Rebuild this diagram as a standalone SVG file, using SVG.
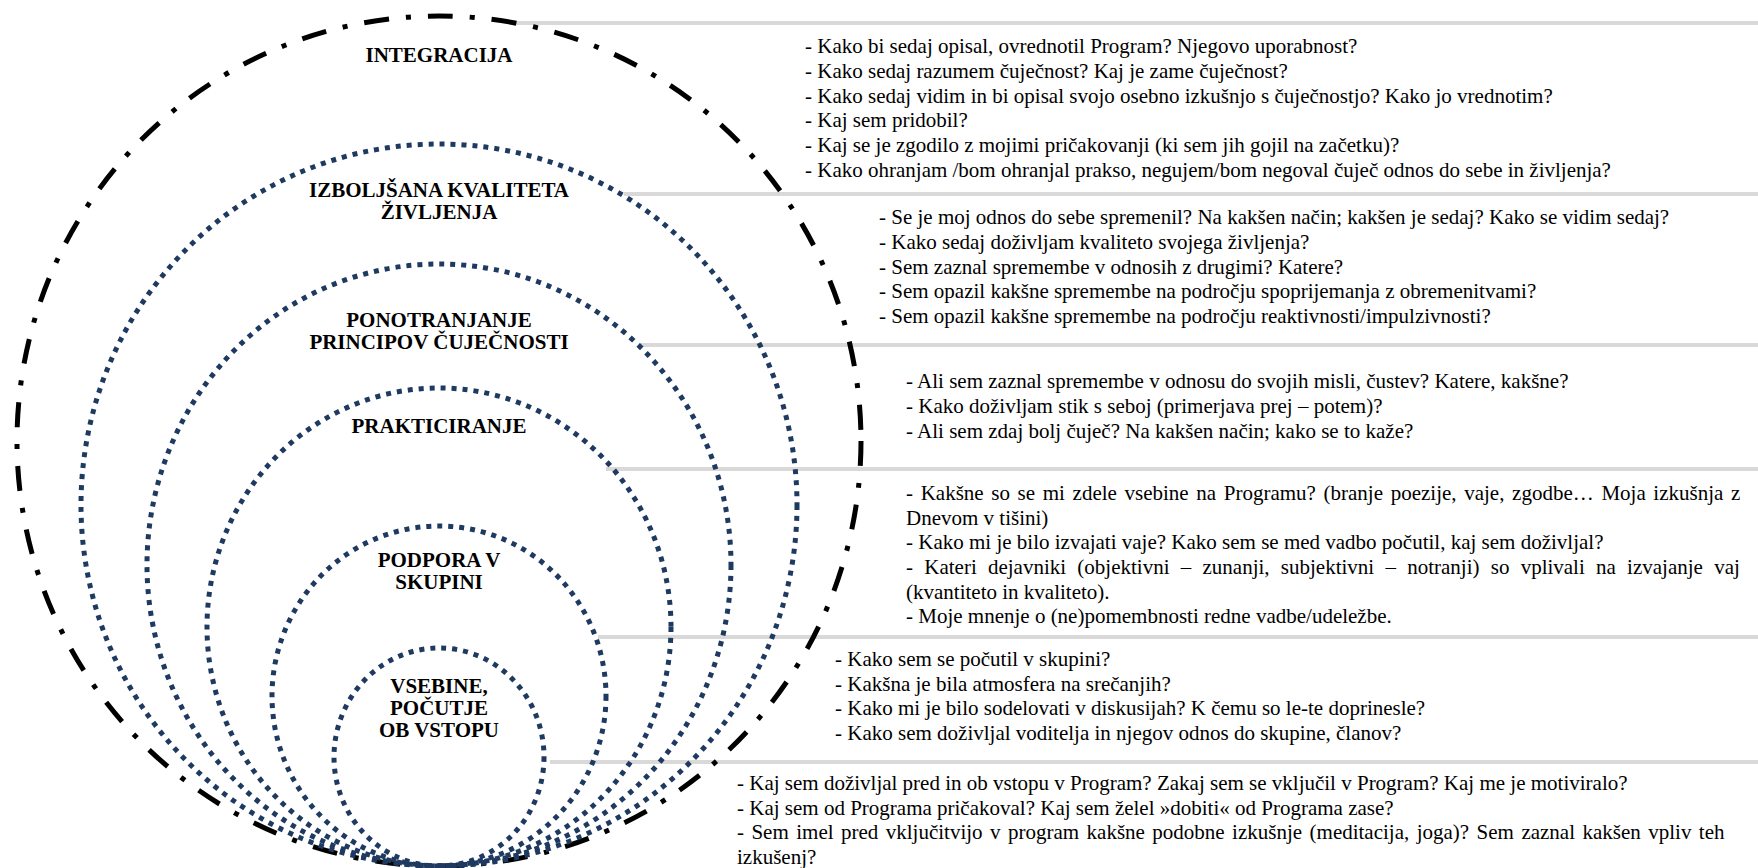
<svg xmlns="http://www.w3.org/2000/svg" width="1758" height="868" viewBox="0 0 1758 868">
  <style>
    .ring { fill: none; stroke: #1f3a60; stroke-width: 5; stroke-dasharray: 5 6; }
    .outer { fill: none; stroke: #000; stroke-width: 5; stroke-dasharray: 25 17 5 17; }
    .link { stroke: #d9d9d9; stroke-width: 4; fill: none; }
    .label { font-family: "Liberation Serif", "Times New Roman", serif; font-size: 21px; font-weight: bold; fill: #000; text-anchor: middle; }
    .q { font-family: "Liberation Serif", "Times New Roman", serif; font-size: 21px; fill: #000; }
  </style>

  <rect width="1758" height="868" fill="#fff"/>

  <!-- connectors: each level runs out to its block of questions -->
  <g id="connectors">
    <line class="link" x1="511" y1="23" x2="1758" y2="23"/>
    <line class="link" x1="624" y1="194" x2="1758" y2="194"/>
    <line class="link" x1="639" y1="345" x2="1758" y2="345"/>
    <line class="link" x1="606" y1="469" x2="1758" y2="469"/>
    <line class="link" x1="598" y1="637" x2="1758" y2="637"/>
    <line class="link" x1="550" y1="762" x2="1758" y2="762"/>
  </g>

  <!-- nested levels, all touching at the bottom -->
  <g id="integracija">
    <ellipse class="outer" cx="439" cy="441" rx="422" ry="425"/>
    <text class="label" x="439" y="62">INTEGRACIJA</text>
  </g>
  <g id="kvaliteta">
    <ellipse class="ring" cx="439" cy="505" rx="358" ry="361"/>
    <text class="label" x="439" y="197">IZBOLJŠANA KVALITETA</text>
    <text class="label" x="439" y="219">ŽIVLJENJA</text>
  </g>
  <g id="ponotranjanje">
    <ellipse class="ring" cx="439" cy="565" rx="292" ry="301"/>
    <text class="label" x="439" y="327">PONOTRANJANJE</text>
    <text class="label" x="439" y="349">PRINCIPOV ČUJEČNOSTI</text>
  </g>
  <g id="prakticiranje">
    <ellipse class="ring" cx="439" cy="627" rx="232" ry="239"/>
    <text class="label" x="439" y="433">PRAKTICIRANJE</text>
  </g>
  <g id="podpora">
    <ellipse class="ring" cx="439" cy="696" rx="167" ry="170"/>
    <text class="label" x="439" y="567">PODPORA V</text>
    <text class="label" x="439" y="589">SKUPINI</text>
  </g>
  <g id="vsebine">
    <ellipse class="ring" cx="439" cy="757" rx="105" ry="109"/>
    <text class="label" x="439" y="693">VSEBINE,</text>
    <text class="label" x="439" y="715">POČUTJE</text>
    <text class="label" x="439" y="737">OB VSTOPU</text>
  </g>

  <!-- question blocks -->
  <g id="q-integracija" class="q">
    <text x="805" y="53">- Kako bi sedaj opisal, ovrednotil Program? Njegovo uporabnost?</text>
    <text x="805" y="78">- Kako sedaj razumem čuječnost? Kaj je zame čuječnost?</text>
    <text x="805" y="103">- Kako sedaj vidim in bi opisal svojo osebno izkušnjo s čuječnostjo? Kako jo vrednotim?</text>
    <text x="805" y="127">- Kaj sem pridobil?</text>
    <text x="805" y="152">- Kaj se je zgodilo z mojimi pričakovanji (ki sem jih gojil na začetku)?</text>
    <text x="805" y="177">- Kako ohranjam /bom ohranjal prakso, negujem/bom negoval čuječ odnos do sebe in življenja?</text>
  </g>
  <g id="q-kvaliteta" class="q">
    <text x="879" y="224">- Se je moj odnos do sebe spremenil? Na kakšen način; kakšen je sedaj? Kako se vidim sedaj?</text>
    <text x="879" y="249">- Kako sedaj doživljam kvaliteto svojega življenja?</text>
    <text x="879" y="274">- Sem zaznal spremembe v odnosih z drugimi? Katere?</text>
    <text x="879" y="298">- Sem opazil kakšne spremembe na področju spoprijemanja z obremenitvami?</text>
    <text x="879" y="323">- Sem opazil kakšne spremembe na področju reaktivnosti/impulzivnosti?</text>
  </g>
  <g id="q-ponotranjanje" class="q">
    <text x="906" y="388">- Ali sem zaznal spremembe v odnosu do svojih misli, čustev? Katere, kakšne?</text>
    <text x="906" y="413">- Kako doživljam stik s seboj (primerjava prej – potem)?</text>
    <text x="906" y="438">- Ali sem zdaj bolj čuječ? Na kakšen način; kako se to kaže?</text>
  </g>
  <g id="q-prakticiranje" class="q">
    <text x="906" y="500" word-spacing="2.4">- Kakšne so se mi zdele vsebine na Programu? (branje poezije, vaje, zgodbe… Moja izkušnja z</text>
    <text x="906" y="525">Dnevom v tišini)</text>
    <text x="906" y="549">- Kako mi je bilo izvajati vaje? Kako sem se med vadbo počutil, kaj sem doživljal?</text>
    <text x="906" y="574" word-spacing="6">- Kateri dejavniki (objektivni – zunanji, subjektivni – notranji) so vplivali na izvajanje vaj</text>
    <text x="906" y="599">(kvantiteto in kvaliteto).</text>
    <text x="906" y="623">- Moje mnenje o (ne)pomembnosti redne vadbe/udeležbe.</text>
  </g>
  <g id="q-podpora" class="q">
    <text x="835" y="666">- Kako sem se počutil v skupini?</text>
    <text x="835" y="691">- Kakšna je bila atmosfera na srečanjih?</text>
    <text x="835" y="715">- Kako mi je bilo sodelovati v diskusijah? K čemu so le-te doprinesle?</text>
    <text x="835" y="740">- Kako sem doživljal voditelja in njegov odnos do skupine, članov?</text>
  </g>
  <g id="q-vsebine" class="q">
    <text x="737" y="790">- Kaj sem doživljal pred in ob vstopu v Program? Zakaj sem se vključil v Program? Kaj me je motiviralo?</text>
    <text x="737" y="815">- Kaj sem od Programa pričakoval? Kaj sem želel »dobiti« od Programa zase?</text>
    <text x="737" y="839" word-spacing="2.2">- Sem imel pred vključitvijo v program kakšne podobne izkušnje (meditacija, joga)? Sem zaznal kakšen vpliv teh</text>
    <text x="737" y="864">izkušenj?</text>
  </g>
</svg>
